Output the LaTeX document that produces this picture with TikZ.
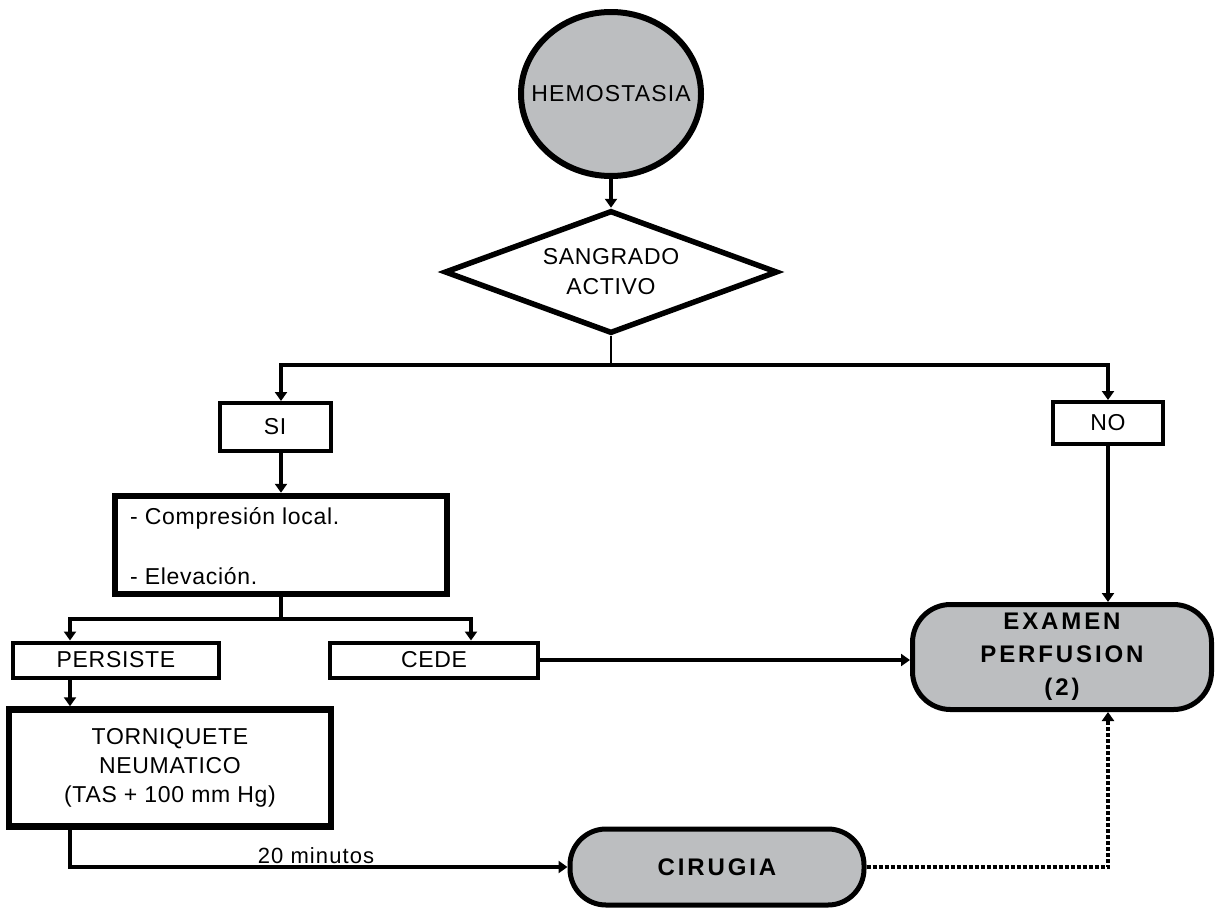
\documentclass[tikz,border=0pt]{standalone}
\usepackage{fontspec}
\setmainfont{Liberation Sans}[LetterSpace=3]
\newfontfamily\termfont{Liberation Sans}[LetterSpace=12]
\newfontfamily\widefont{Liberation Sans}[LetterSpace=5]
\usetikzlibrary{shapes.geometric,arrows.meta,calc}
\definecolor{fillgray}{RGB}{188,190,192}
\begin{document}
\begin{tikzpicture}[x=1pt,y=-1pt,
  every node/.style={font=\fontsize{23}{27}\selectfont, inner sep=0pt, align=center},
  tip/.tip={Triangle[length=9pt,width=12pt]},
  flow/.style={line width=4.8pt, -tip},
  link/.style={line width=4.5pt},
  thinlink/.style={line width=2pt},
  dotflow/.style={line width=4pt, dash pattern=on 4pt off 2pt, -tip},
  tag/.style={draw, line width=4pt, rectangle},
  stepbox/.style={draw, line width=6.5pt, rectangle},
  terminal/.style={draw, line width=5pt, rectangle, fill=fillgray, font=\fontsize{24}{33}\selectfont\termfont\bfseries}
]
\useasboundingbox (0,0) rectangle (1215,908);

% start and decision
\node[draw, ellipse, line width=6pt, fill=fillgray, minimum width=180pt, minimum height=164pt, font=\fontsize{23}{27}\selectfont\widefont] (hemo) at (611,94) {\makebox[0pt]{HEMOSTASIA}};
\node[draw, diamond, aspect=2.65, line width=5.5pt, minimum width=333pt, minimum height=123pt, font=\fontsize{23}{30}\selectfont] (dec) at (611,272) {SANGRADO\\ACTIVO};

% branch labels
\node[tag, minimum width=111pt, minimum height=48pt] (si) at (275,427) {SI};
\node[tag, minimum width=110pt, minimum height=42pt] (no) at (1108,423) {NO};

% first aid box
\node[stepbox, minimum width=332pt, minimum height=98pt] (comp) at (281,545) {};
\node[anchor=west] (c1) at (130,518) {- Compresión local.};
\node[anchor=west] (c2) at (130,576) {- Elevación.};

% outcome labels
\node[tag, minimum width=206pt, minimum height=35pt] (pers) at (116,660) {PERSISTE};
\node[tag, minimum width=208pt, minimum height=35pt] (cede) at (434,660) {CEDE};

% tourniquet
\node[stepbox, minimum width=322pt, minimum height=117pt, font=\fontsize{23}{29}\selectfont] (torn) at (170,768) {TORNIQUETE\\NEUMATICO\\(TAS + 100 mm Hg)};

% terminals
\node[terminal, rounded corners=38pt, minimum width=299pt, minimum height=105pt] (exam) at (1062,657) {EXAMEN\\PERFUSION\\(2)};
\node[terminal, rounded corners=36pt, minimum width=294pt, minimum height=76pt] (cir) at (717,867) {CIRUGIA};

% junction points
\coordinate (split) at (611,365);
\coordinate (lk) at (281,365);
\coordinate (split2) at (281,619);
\coordinate (pk) at (70,619);
\coordinate (ck) at (471,619);

% connectors
\draw[flow] (hemo.south) -- (dec.north);
\draw[thinlink] (dec.south) -- (split);
\draw[flow] (split) -| (si.north -| lk);
\draw[flow] (split) -| (no.north);
\draw[flow] (si.south -| lk) -- (comp.north -| lk);
\draw[link] (comp.south) -- (split2);
\draw[flow] (split2) -| (pers.north -| pk);
\draw[flow] (split2) -| (cede.north -| ck);
\draw[flow] (cede.east) -- (cede.east -| exam.west);
\draw[flow] (no.south) -- (exam.north -| no.south);
\draw[flow] (pers.south -| pk) -- (torn.north -| pk);
\draw[flow] (torn.south -| pk) |- (cir.west);
\node[font=\fontsize{22}{26}\selectfont\widefont] (mins) at (316,856) {20 minutos};
\draw[dotflow] (cir.east) -| (exam.south -| no.south);
\end{tikzpicture}
\end{document}
